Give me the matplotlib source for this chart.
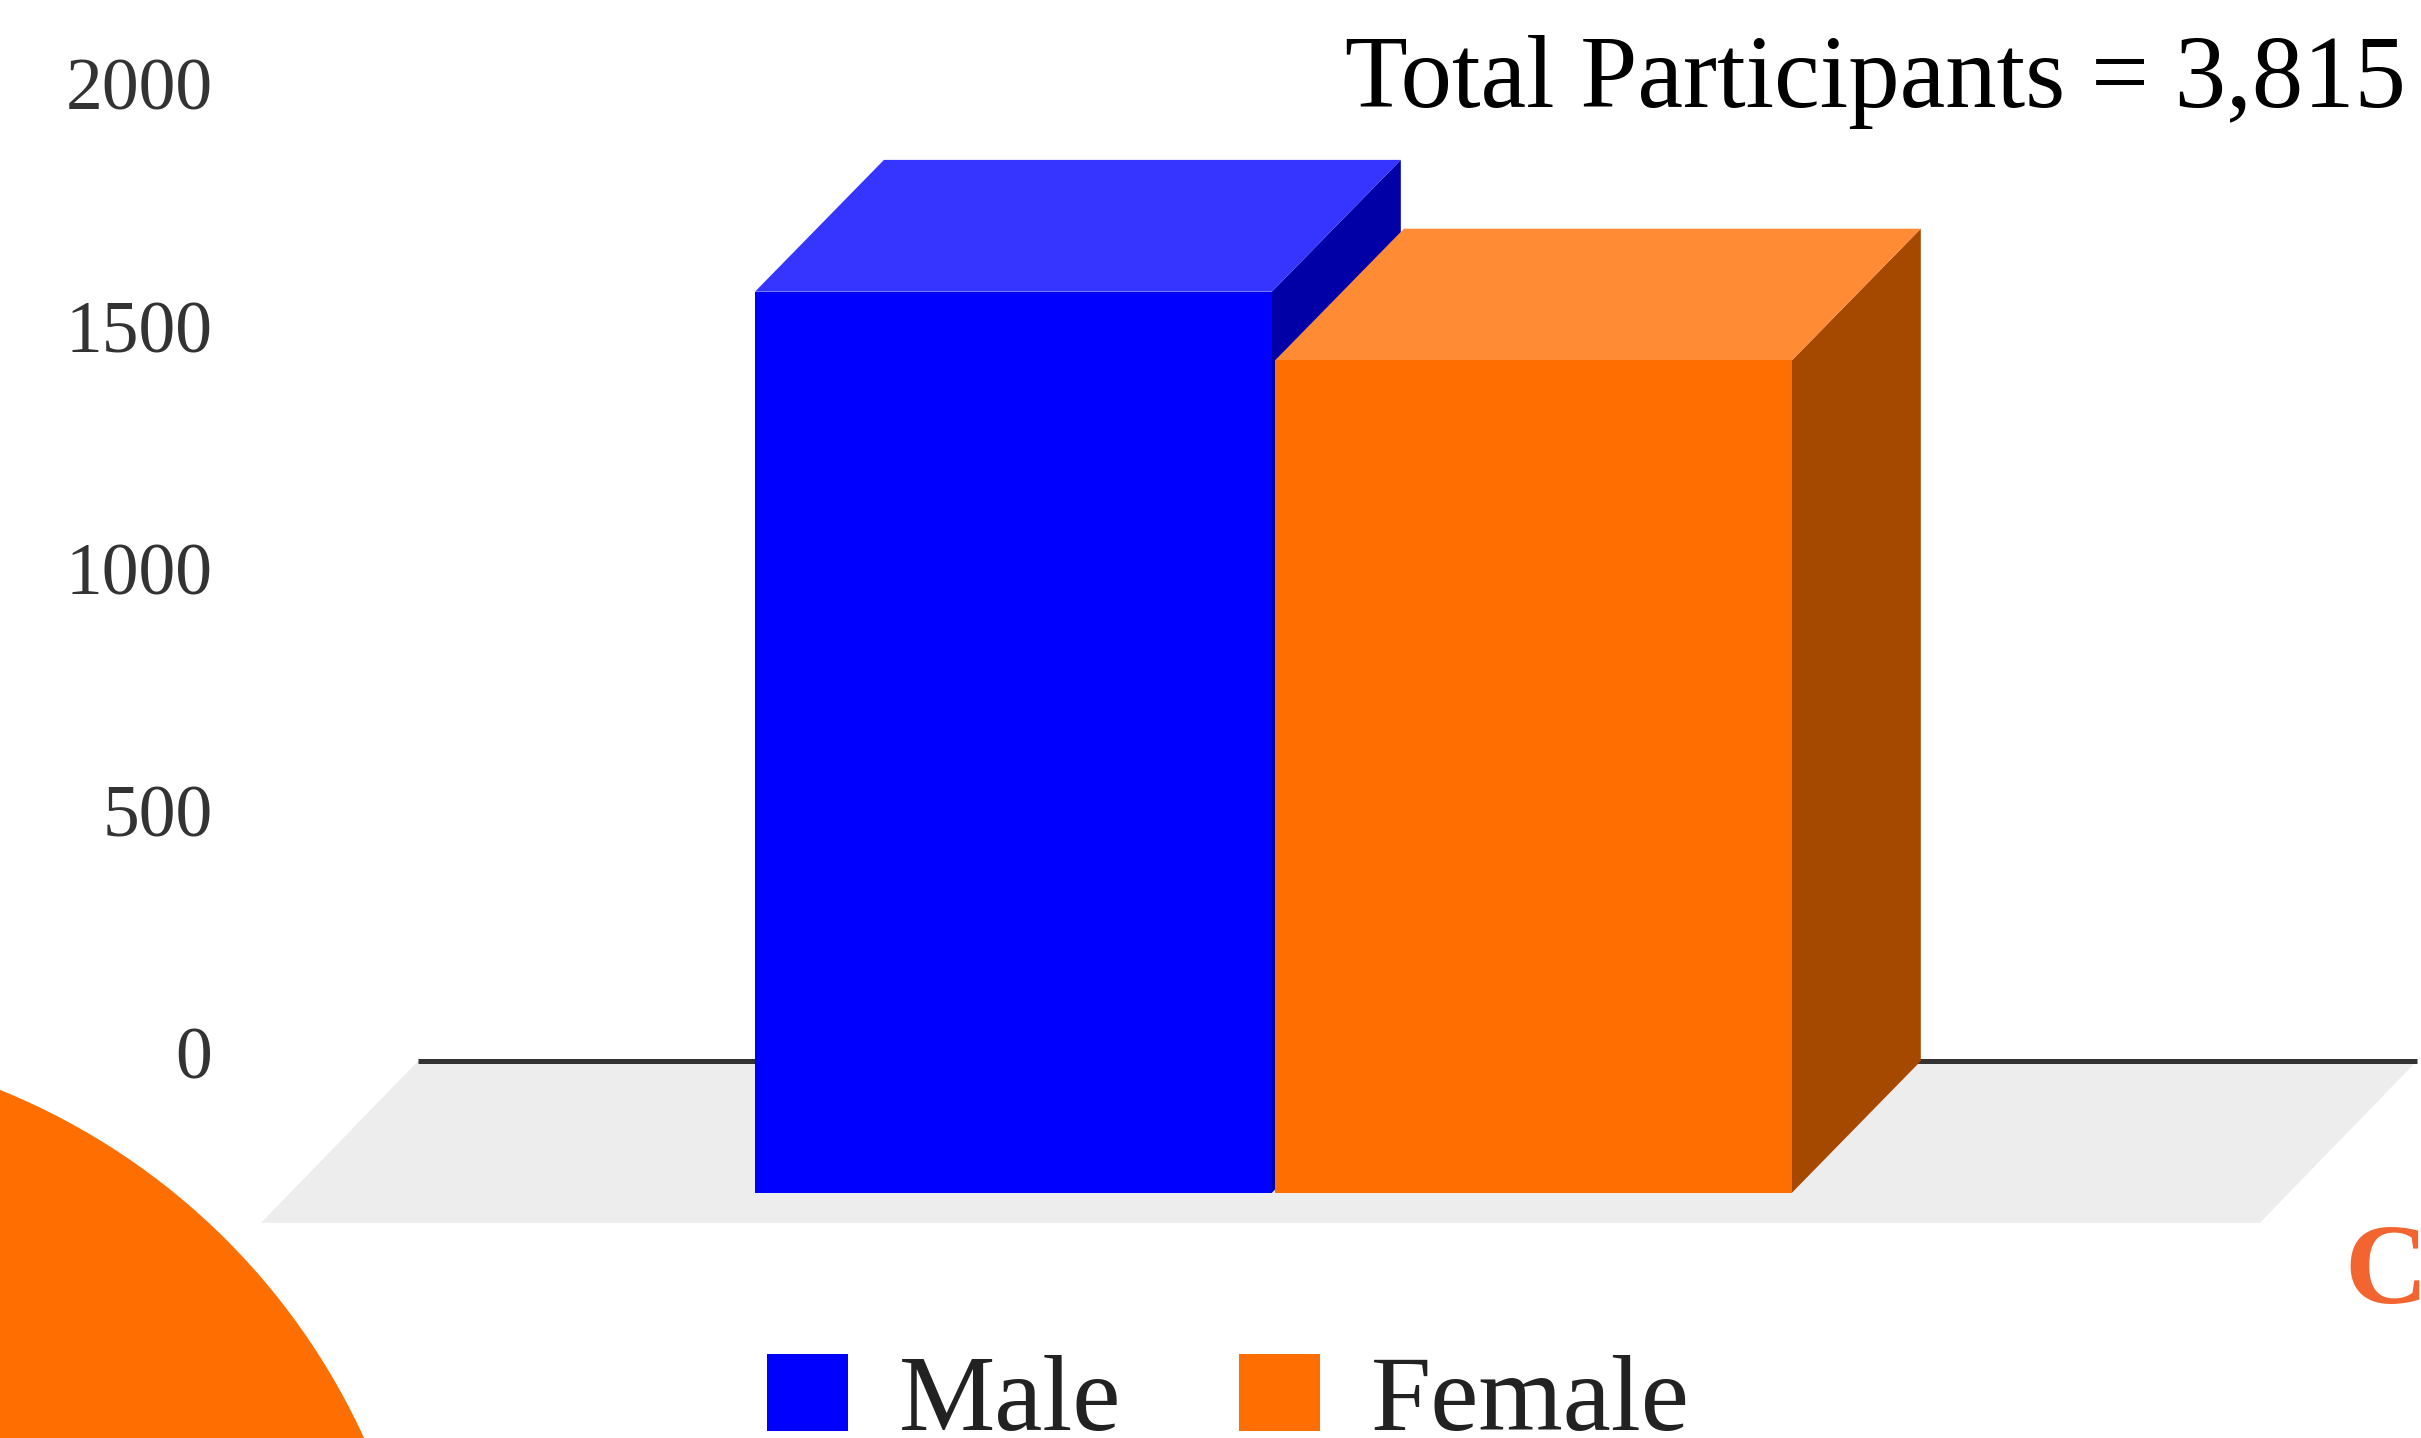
import matplotlib
matplotlib.use("Agg")
import matplotlib.pyplot as plt
from matplotlib.patches import Polygon, Rectangle, Circle

# data
categories = ["Male", "Female"]
participants = [1860, 1718]
y_ticks = [0, 500, 1000, 1500, 2000]
total_text = "Total Participants = 3,815"

front_colors = ["#0000ff", "#ff6e00"]
top_colors = ["#3535ff", "#ff8b35"]
side_colors = ["#0000a6", "#a54800"]

W, H, DPI = 2421, 1438, 100
SERIF = "Liberation Serif"

fig = plt.figure(figsize=(W / DPI, H / DPI), dpi=DPI)
ax = fig.add_axes([0, 0, 1, 1])
ax.set_xlim(-1.949, 2.707)
ax.set_ylim(-778, 2190)
for k, v in ax.spines.items():
    v.set_visible(False)
ax.set_xticks([])
ax.set_yticks(y_ticks)
ax.set_yticklabels([str(t) for t in y_ticks])
ax.tick_params(axis="y", length=0, pad=-153, labelsize=53, labelcolor="#333333")
for lab in ax.get_yticklabels():
    lab.set_fontfamily(SERIF)
    lab.set_verticalalignment("center")

# oblique depth of the bars and the floor
dx, dy = 0.248, 272
bw = 0.994
floor_back = (-1.145, 2.699)
floor_dx, floor_dy = 0.302, 334

ax.add_patch(Polygon([(floor_back[0], 0), (floor_back[1], 0),
                      (floor_back[1] - floor_dx, -floor_dy),
                      (floor_back[0] - floor_dx, -floor_dy)],
                     closed=True, facecolor="#ededed", edgecolor="none", zorder=1))
ax.plot([floor_back[0], floor_back[1]], [0, 0], color="#333333", lw=3.6,
        solid_capstyle="butt", zorder=2)

for i, v in enumerate(participants):
    x0 = i - bw / 2
    z = 3 + i * 3
    ax.add_patch(Polygon([(x0 + bw, -dy), (x0 + bw + dx, 0), (x0 + bw + dx, v),
                          (x0 + bw, v - dy)], closed=True,
                         facecolor=side_colors[i], edgecolor="none", zorder=z))
    ax.add_patch(Polygon([(x0, v - dy), (x0 + bw, v - dy), (x0 + bw + dx, v),
                          (x0 + dx, v)], closed=True,
                         facecolor=top_colors[i], edgecolor="none", zorder=z + 1))
    ax.add_patch(Rectangle((x0, -dy), bw, v, facecolor=front_colors[i],
                           edgecolor="none", zorder=z + 2))

# title
fig.text(2406 / W, (H - 107) / H, total_text, ha="right", va="baseline",
         fontsize=74, family=SERIF, color="black")

# decorative slide pieces
fig.add_artist(Circle((-2.56, -2.84), 6.82, transform=fig.dpi_scale_trans,
                      facecolor="#ff6e00", edgecolor="none", zorder=10))
fig.text(2344 / W, (H - 1303) / H, "C", ha="left", va="baseline", fontsize=83,
         fontweight="bold", family=SERIF, color="#f26430")

# legend
legend_sq = [767, 1239]
legend_tx = [899, 1371]
for i, name in enumerate(categories):
    fig.add_artist(Rectangle((legend_sq[i] / W, (H - 1431) / H), 81 / W, 77 / H,
                             transform=fig.transFigure, facecolor=front_colors[i],
                             edgecolor="none"))
    fig.text(legend_tx[i] / W, (H - 1430) / H, name, ha="left", va="baseline",
             fontsize=78, family=SERIF, color="#222222")

fig.savefig("out.png", dpi=DPI)
